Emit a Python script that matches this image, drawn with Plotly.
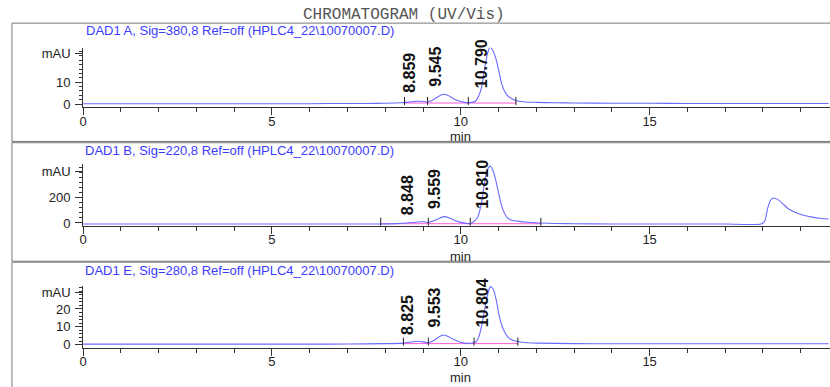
import plotly.graph_objects as go

W, H = 830, 387

# ---------------- data ----------------
chart_title = "CHROMATOGRAM (UV/Vis)"
signal_names = [
    "DAD1 A, Sig=380,8 Ref=off (HPLC4_22\\10070007.D)",
    "DAD1 B, Sig=220,8 Ref=off (HPLC4_22\\10070007.D)",
    "DAD1 E, Sig=280,8 Ref=off (HPLC4_22\\10070007.D)",
]

time_A = [0, 2, 4, 6, 7, 7.5, 8.0, 8.4, 8.6, 8.8, 8.95, 9.1, 9.25, 9.4, 9.53, 9.65, 9.8, 9.95,
          10.1, 10.25, 10.38, 10.47, 10.55, 10.63, 10.7, 10.77, 10.85, 10.95, 11.02, 11.08,
          11.15, 11.22, 11.3, 11.47, 11.7, 12.0, 12.5, 13, 14, 15, 16, 17, 18, 19, 19.74]
sig_A = [0.2, 0.2, 0.2, 0.2, 0.3, 0.3, 0.4, 0.6, 0.9, 1.3, 1.3, 1.0, 1.8, 3.4, 4.5, 4.0, 2.6, 1.4,
         0.8, 0.7, 1.2, 3.5, 7.6, 16.0, 22.5, 26.0, 24.5, 19.5, 14.0, 9.5,
         6.2, 4.2, 3.0, 1.5, 1.0, 0.8, 0.6, 0.5, 0.4, 0.4, 0.3, 0.3, 0.3, 0.3, 0.3]

time_B = [0, 2, 4, 6, 7, 7.88, 8.3, 8.6, 8.85, 9.0, 9.13, 9.3, 9.45, 9.56, 9.7, 9.85, 10.0,
          10.15, 10.25, 10.38, 10.45, 10.52, 10.58, 10.63, 10.68, 10.74, 10.79, 10.86, 10.92,
          11.0, 11.08, 11.16, 11.24, 11.35, 11.55, 11.8, 12.1, 12.5, 13, 14, 15, 16, 17, 17.95,
          18.05, 18.12, 18.2, 18.28, 18.4, 18.55, 18.66, 18.85, 19.1, 19.3, 19.5, 19.74]
sig_B = [-8, -8, -8, -8, -8, -8, -5, 0, 8, 10, 5, 20, 40, 50, 40, 20, 5,
         -3, -5, 20, 50, 120, 215, 320, 400, 440, 450, 410, 346,
         240, 138, 75, 38, 22, 13, 6, 0, -4, -6, -8, -8, -8, -8, -8,
         15, 110, 180, 198, 185, 145, 115, 85, 59, 46, 38, 31]

time_E = [0, 2, 4, 6, 7, 8.0, 8.47, 8.7, 8.87, 9.0, 9.13, 9.3, 9.43, 9.53, 9.65, 9.8, 9.95,
          10.1, 10.3, 10.41, 10.48, 10.54, 10.61, 10.68, 10.74, 10.79, 10.86, 10.94, 11.0,
          11.07, 11.15, 11.24, 11.35, 11.5, 11.7, 12.0, 13, 14, 15, 16, 17, 18, 19, 19.74]
sig_E = [0.3, 0.3, 0.3, 0.3, 0.4, 0.6, 0.9, 1.5, 1.9, 1.6, 1.1, 2.5, 4.5, 5.4, 4.7, 3.0, 1.6,
         0.9, 0.9, 1.8, 4.5, 9.4, 17.0, 25.0, 30.5, 32.5, 31.0, 25.0, 18.0,
         12.0, 7.5, 4.4, 2.8, 1.8, 1.2, 0.9, 0.6, 0.5, 0.5, 0.5, 0.5, 0.5, 0.5, 0.5]

rt_A = [8.859, 9.545, 10.790]
rt_B = [8.848, 9.559, 10.810]
rt_E = [8.825, 9.553, 10.804]

events_A = [8.51, 9.12, 10.20, 11.46]
events_B = [7.88, 9.14, 10.25, 12.12]
events_E = [8.48, 9.14, 10.35, 11.51]

baseline_A = 0.5
baseline_B = -6
baseline_E = 0.6

x_tick_vals = [0, 5, 10, 15]
x_unit = "min"
y_unit = "mAU"

# ---------------- layout / styling ----------------
def py(p):
    return 1 - p / H

def px(p):
    return p / W

panels = [
    dict(t=time_A, s=sig_A, rt=rt_A, ev=events_A, bl=baseline_A,
         top=46.7, bot=107, yr=[-1.35, 25.7], yt=[0, 10], unit_at=23.3, minor=2,
         lab_shift=[9, 15, 14], sub_y=29.3, min_y=137, box=(21.5, 142)),
    dict(t=time_B, s=sig_B, rt=rt_B, ev=events_B, bl=baseline_B,
         top=165, bot=228, yr=[-23, 467], yt=[0, 200], unit_at=405, minor=40,
         lab_shift=[6, 12, 12], sub_y=151.7, min_y=259, box=(143.3, 264)),
    dict(t=time_E, s=sig_E, rt=rt_E, ev=events_E, bl=baseline_E,
         top=289, bot=352, yr=[-1.65, 33], yt=[0, 10, 20], unit_at=29, minor=2,
         lab_shift=[8, 15, 15], sub_y=273.3, min_y=382, box=(265, 400)),
]

FONT = "Liberation Sans, Arial, sans-serif"
BLUE = "#6a6aff"
PINK = "#ff5ad8"
AX = "#333333"

X0_PIX = 79.5
fig = go.Figure()
layout = dict(
    width=W, height=H, margin=dict(l=0, r=0, t=0, b=0),
    paper_bgcolor="white", plot_bgcolor="white", showlegend=False,
    font=dict(family=FONT, size=13, color="#222"),
)
annotations = []
shapes = []

x_end = (W - X0_PIX) / 37.95

for i, p in enumerate(panels):
    k = "" if i == 0 else str(i + 1)
    xa, ya = "x" + k, "y" + k
    # pink integration baseline
    fig.add_trace(go.Scatter(x=[p["ev"][0], p["ev"][-1]], y=[p["bl"], p["bl"]],
                             mode="lines", line=dict(color=PINK, width=1),
                             xaxis=xa, yaxis=ya, hoverinfo="skip"))
    # signal
    fig.add_trace(go.Scatter(x=p["t"], y=p["s"], mode="lines",
                             line=dict(color=BLUE, width=1.1, shape="spline", smoothing=0.6),
                             xaxis=xa, yaxis=ya))
    layout["xaxis" + k] = dict(
        domain=[px(X0_PIX), 1], range=[0, x_end], anchor=ya,
        showline=True, linecolor=AX, linewidth=1, showgrid=False, zeroline=False,
        tickmode="array", tickvals=x_tick_vals, ticks="outside", ticklen=7,
        tickcolor=AX, tickfont=dict(size=13, color="#222"), ticklabelstandoff=-5,
        minor=dict(dtick=1, tick0=0, ticks="outside", ticklen=4, tickcolor=AX, showgrid=False),
        fixedrange=True,
    )
    layout["yaxis" + k] = dict(
        domain=[py(p["bot"]), py(p["top"])], range=p["yr"], anchor=xa,
        showline=True, linecolor=AX, linewidth=1, showgrid=False, zeroline=False,
        tickmode="array", tickvals=p["yt"] + [p["unit_at"]],
        ticktext=[str(v) for v in p["yt"]] + [y_unit],
        ticks="outside", ticklen=7, tickcolor=AX, tickfont=dict(size=13, color="#222"),
        ticklabelstandoff=2,
        minor=dict(dtick=p["minor"], tick0=0, ticks="outside", ticklen=3, tickcolor=AX, showgrid=False),
        fixedrange=True,
    )
    # panel frame
    shapes.append(dict(type="rect", xref="paper", yref="paper",
                       x0=px(8), x1=px(W + 10), y0=py(p["box"][1]), y1=py(p["box"][0]),
                       line=dict(color="#777", width=1), layer="below"))
    # signal description
    annotations.append(dict(text=signal_names[i], xref="paper", yref="paper",
                            x=px(237), y=py(p["sub_y"]), xanchor="center", yanchor="middle",
                            showarrow=False, font=dict(family=FONT, size=13, color="#3c3cff")))
    # x unit
    annotations.append(dict(text=x_unit, xref=xa, yref="paper", x=10, y=py(p["min_y"]),
                            xanchor="center", yanchor="middle", showarrow=False,
                            font=dict(family=FONT, size=13, color="#222")))
    # retention time labels
    for j, rt in enumerate(p["rt"]):
        annotations.append(dict(text="<b>%.3f</b>" % rt, xref=xa, yref=ya, x=rt, y=0,
                                xanchor="center", yanchor="bottom", xshift=-9,
                                yshift=p["lab_shift"][j], textangle=-90, showarrow=False,
                                font=dict(family=FONT, size=16, color="#111")))
    # baseline event marks
    for ev in p["ev"]:
        shapes.append(dict(type="line", xref=xa, yref=ya, x0=ev, x1=ev,
                           ysizemode="pixel", yanchor=p["bl"], y0=-2, y1=6,
                           line=dict(color="#222", width=1)))

annotations.append(dict(text=chart_title, xref="paper", yref="paper", x=px(402), y=py(13),
                        xanchor="center", yanchor="middle", showarrow=False,
                        font=dict(family="Liberation Mono, Courier New, monospace", size=16, color="#555")))

layout["annotations"] = annotations
layout["shapes"] = shapes
fig.update_layout(**layout)
fig.write_html("out.html")
